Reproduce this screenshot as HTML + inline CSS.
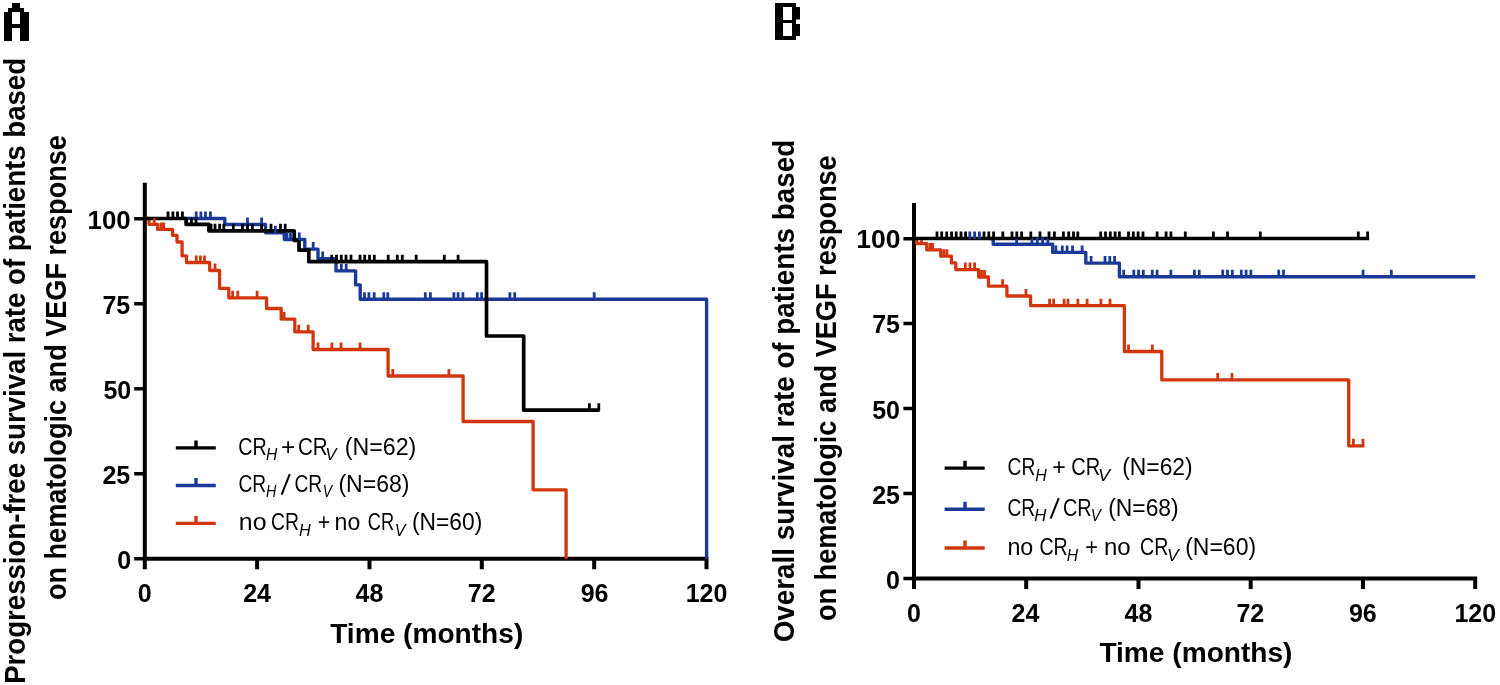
<!DOCTYPE html>
<html><head><meta charset="utf-8"><style>
html,body{margin:0;padding:0;background:#fff;width:1500px;height:685px;overflow:hidden}
svg{display:block;will-change:transform}
text{font-family:"Liberation Sans",sans-serif;fill:#000}
.b{font-weight:bold}
.i{font-style:italic}
</style></head><body>
<svg width="1500" height="685" viewBox="0 0 1500 685">
<rect x="12" y="3" width="8" height="5"/><rect x="8" y="8" width="16" height="4"/><rect x="4" y="12" width="8" height="29"/><rect x="20" y="12" width="9" height="29"/><rect x="12" y="24" width="8" height="4"/>
<path fill-rule="evenodd" d="M775 3H796V40H775Z M783 7V20H792V7Z M783 23V36H792V23Z"/><rect x="796" y="7" width="4" height="12.5"/><rect x="796" y="24" width="4" height="12"/>
<path d="M144.8 182.8V569.3M142.8 558.8H708.5M257.1 558.8V569.3M369.5 558.8V569.3M481.8 558.8V569.3M594.2 558.8V569.3M706.5 558.8V569.3" stroke="#000" stroke-width="4.0" fill="none"/>
<path d="M134.2 218.7H144.8M134.2 303.7H144.8M134.2 388.8H144.8M134.2 473.8H144.8M134.2 558.8H144.8" stroke="#000" stroke-width="3.5" fill="none"/>
<path d="M914.0 202.9V589.0M912.0 578.5H1477.2M1026.2 578.5V589.0M1138.5 578.5V589.0M1250.7 578.5V589.0M1363.0 578.5V589.0M1475.2 578.5V589.0" stroke="#000" stroke-width="4.0" fill="none"/>
<path d="M903.4 238.7H914.0M903.4 323.6H914.0M903.4 408.6H914.0M903.4 493.6H914.0M903.4 578.5H914.0" stroke="#000" stroke-width="3.5" fill="none"/>
<path d="M144.8 218.5 H149.0 V224.3 H157.7 V229.4 H172.6 V235.4 H177.0 V242.0 H182.1 V255.9 H186.5 V262.5 H209.7 V270.5 H219.6 V288.4 H228.8 V297.8 H266.6 V308.5 H281.2 V319.1 H294.8 V331.8 H313.1 V349.5 H388.1 V376.0 H463.1 V421.5 H533.1 V489.8 H566.1 V558.8" stroke="#d2360e" stroke-width="3.3" fill="none" stroke-linejoin="round"/>
<path d="M184.0 218.5 H224.8 V224.5 H265.5 V232.8 H284.3 V239.5 H304.8 V249.1 H318.0 V258.6 H336.0 V270.9 H355.6 V284.9 H360.2 V299.2 H706.6 V558.8" stroke="#1b3a97" stroke-width="3.4" fill="none" stroke-linejoin="round"/>
<path d="M144.8 218.5 H186.1 V224.4 H208.9 V230.8 H294.2 V240.3 H299.0 V250.2 H308.8 V261.7 H486.5 V336.0 H523.7 V410.2 H599.6" stroke="#000000" stroke-width="3.7" fill="none" stroke-linejoin="round"/>
<path d="M914.0 238.5 H916.7 V243.6 H926.8 V249.9 H940.8 V256.2 H951.4 V262.9 H955.8 V269.6 H978.6 V277.0 H988.5 V286.2 H1006.9 V296.0 H1030.6 V305.7 H1124.4 V351.5 H1161.8 V379.9 H1348.7 V445.8 H1364.3" stroke="#d2360e" stroke-width="3.3" fill="none" stroke-linejoin="round"/>
<path d="M990.0 238.5 H993.2 V244.2 H1052.7 V252.4 H1085.8 V263.1 H1119.4 V276.8 H1475.3" stroke="#1b3a97" stroke-width="3.4" fill="none" stroke-linejoin="round"/>
<path d="M914.0 238.5 H1369.2" stroke="#000000" stroke-width="3.7" fill="none" stroke-linejoin="round"/>
<path d="M154.2 224.8V218.3M161.0 229.9V222.4M163.8 229.9V222.4M196.3 263.0V255.5M200.4 263.0V255.5M204.5 263.0V255.5M215.0 271.0V263.5M232.6 298.3V290.8M237.8 298.3V290.8M257.1 298.3V290.8M284.1 319.6V312.1M298.7 332.3V324.8M308.2 332.3V324.8M318.0 350.0V342.5M331.9 350.0V342.5M341.1 350.0V342.5M360.1 350.0V342.5M392.8 376.5V369.0M448.9 376.5V369.0" stroke="#d2360e" stroke-width="2.8" fill="none"/>
<path d="M196.2 219.0V211.5M200.9 219.0V211.5M205.5 219.0V211.5M210.4 219.0V211.5M247.5 225.0V217.5M261.6 225.0V217.5M275.3 233.3V225.8M287.0 240.0V232.5M290.5 240.0V232.5M299.3 240.0V232.5M313.2 249.6V242.1M322.7 259.1V251.6M341.3 271.4V263.9M346.2 271.4V263.9M364.5 299.7V292.2M368.9 299.7V292.2M374.2 299.7V292.2M383.8 299.7V292.2M387.8 299.7V292.2M425.3 299.7V292.2M430.4 299.7V292.2M453.9 299.7V292.2M458.1 299.7V292.2M462.9 299.7V292.2M477.3 299.7V292.2M481.6 299.7V292.2M509.9 299.7V292.2M514.7 299.7V292.2M594.2 299.7V292.2" stroke="#1b3a97" stroke-width="2.8" fill="none"/>
<path d="M168.0 219.0V211.5M172.9 219.0V211.5M177.5 219.0V211.5M182.4 219.0V211.5M191.4 224.9V217.4M196.0 224.9V217.4M211.0 231.3V223.8M215.0 231.3V223.8M219.7 231.3V223.8M223.8 231.3V223.8M233.3 231.3V223.8M242.5 231.3V223.8M247.5 231.3V223.8M252.4 231.3V223.8M261.5 231.3V223.8M271.0 231.3V223.8M280.5 231.3V223.8M285.2 231.3V223.8M331.7 262.2V254.7M336.5 262.2V254.7M341.3 262.2V254.7M346.0 262.2V254.7M351.0 262.2V254.7M360.0 262.2V254.7M364.7 262.2V254.7M369.5 262.2V254.7M374.3 262.2V254.7M388.2 262.2V254.7M397.3 262.2V254.7M402.3 262.2V254.7M416.2 262.2V254.7M444.3 262.2V254.7M458.1 262.2V254.7M589.4 410.7V403.2M598.8 410.7V403.2" stroke="#000000" stroke-width="2.8" fill="none"/>
<path d="M921.5 244.1V240.1M929.9 250.4V242.9M932.6 250.4V242.9M943.8 256.7V249.2M946.9 256.7V249.2M965.3 270.1V262.6M970.0 270.1V262.6M974.6 270.1V262.6M981.5 277.5V270.0M984.5 277.5V270.0M1002.6 286.7V279.2M1026.0 296.5V289.0M1049.6 306.2V298.7M1053.6 306.2V298.7M1064.1 306.2V298.7M1068.0 306.2V298.7M1077.9 306.2V298.7M1087.1 306.2V298.7M1100.9 306.2V298.7M1110.0 306.2V298.7M1128.5 352.0V344.5M1152.3 352.0V344.5M1217.7 380.4V372.9M1232.0 380.4V372.9M1353.4 446.3V438.8M1363.0 446.3V438.8" stroke="#d2360e" stroke-width="2.8" fill="none"/>
<path d="M969.8 239.0V231.5M974.6 239.0V231.5M979.4 239.0V231.5M1016.6 244.7V237.2M1031.9 244.7V237.2M1037.3 244.7V237.2M1042.6 244.7V237.2M1047.9 244.7V237.2M1055.9 252.9V245.4M1062.3 252.9V245.4M1067.1 252.9V245.4M1072.5 252.9V245.4M1082.1 252.9V245.4M1091.1 263.6V256.1M1105.0 263.6V256.1M1109.8 263.6V256.1M1114.6 263.6V256.1M1123.7 277.3V269.8M1133.8 277.3V269.8M1138.6 277.3V269.8M1143.3 277.3V269.8M1152.3 277.3V269.8M1157.1 277.3V269.8M1170.9 277.3V269.8M1194.4 277.3V269.8M1199.2 277.3V269.8M1222.7 277.3V269.8M1227.5 277.3V269.8M1232.3 277.3V269.8M1241.3 277.3V269.8M1246.1 277.3V269.8M1250.9 277.3V269.8M1278.7 277.3V269.8M1283.5 277.3V269.8M1363.1 277.3V269.8M1391.3 277.3V269.8" stroke="#1b3a97" stroke-width="2.8" fill="none"/>
<path d="M937.0 239.0V231.5M941.7 239.0V231.5M946.7 239.0V231.5M951.6 239.0V231.5M956.2 239.0V231.5M961.0 239.0V231.5M965.6 239.0V231.5M984.0 239.0V231.5M988.8 239.0V231.5M993.6 239.0V231.5M1002.8 239.0V231.5M1012.0 239.0V231.5M1016.8 239.0V231.5M1021.6 239.0V231.5M1030.8 239.0V231.5M1040.0 239.0V231.5M1049.0 239.0V231.5M1054.4 239.0V231.5M1063.4 239.0V231.5M1068.7 239.0V231.5M1073.5 239.0V231.5M1077.8 239.0V231.5M1100.7 239.0V231.5M1105.5 239.0V231.5M1110.3 239.0V231.5M1115.1 239.0V231.5M1119.4 239.0V231.5M1128.5 239.0V231.5M1133.3 239.0V231.5M1138.1 239.0V231.5M1143.0 239.0V231.5M1157.1 239.0V231.5M1166.1 239.0V231.5M1170.9 239.0V231.5M1185.3 239.0V231.5M1213.4 239.0V231.5M1227.5 239.0V231.5M1260.3 239.0V231.5M1358.3 239.0V231.5M1367.6 239.0V231.5" stroke="#000000" stroke-width="2.8" fill="none"/>
<path d="M175.8 447.9H215.8 M196.0 447.9V440.5" stroke="#000000" stroke-width="3.4" fill="none"/><path d="M175.8 485.5H215.8 M196.0 485.5V478.1" stroke="#1b3a97" stroke-width="3.4" fill="none"/><path d="M175.8 523.4H215.8 M196.0 523.4V516.0" stroke="#d2360e" stroke-width="3.4" fill="none"/>
<path d="M944.6 468.1H984.7 M965.0 468.1V460.7" stroke="#000000" stroke-width="3.4" fill="none"/><path d="M944.6 509.2H984.7 M965.0 509.2V501.8" stroke="#1b3a97" stroke-width="3.4" fill="none"/><path d="M944.6 548.0H984.7 M965.0 548.0V540.6" stroke="#d2360e" stroke-width="3.4" fill="none"/>
<path d="M289.8 474.2L281.6 494.6M1058.8 498.2L1050.6 518.6" stroke="#000" stroke-width="2" fill="none"/>
<text id="ylA0" class="b" x="87.50" y="228.55" font-size="25.00" textLength="43.20" lengthAdjust="spacingAndGlyphs">100</text>
<text id="ylA1" class="b" x="130.20" y="313.65" font-size="25.00" text-anchor="end">75</text>
<text id="ylA2" class="b" x="131.20" y="398.75" font-size="25.00" text-anchor="end">50</text>
<text id="ylA3" class="b" x="130.20" y="483.85" font-size="25.00" text-anchor="end">25</text>
<text id="ylA4" class="b" x="131.20" y="568.95" font-size="25.00" text-anchor="end">0</text>
<text id="xlA0" class="b" x="144.70" y="601.90" font-size="25.00" text-anchor="middle">0</text>
<text id="xlA1" class="b" x="257.06" y="601.90" font-size="25.00" text-anchor="middle">24</text>
<text id="xlA2" class="b" x="369.42" y="601.90" font-size="25.00" text-anchor="middle">48</text>
<text id="xlA3" class="b" x="481.78" y="601.90" font-size="25.00" text-anchor="middle">72</text>
<text id="xlA4" class="b" x="594.64" y="601.90" font-size="25.00" text-anchor="middle">96</text>
<text id="xlA5" class="b" x="706.50" y="601.90" font-size="25.00" text-anchor="middle">120</text>
<text id="tmA" class="b" x="330.20" y="643.30" font-size="27.50" textLength="193.10" lengthAdjust="spacingAndGlyphs">Time (months)</text>
<text id="ylB0" class="b" x="856.30" y="248.35" font-size="25.00" textLength="44.20" lengthAdjust="spacingAndGlyphs">100</text>
<text id="ylB1" class="b" x="900.00" y="333.45" font-size="25.00" text-anchor="end">75</text>
<text id="ylB2" class="b" x="900.00" y="418.55" font-size="25.00" text-anchor="end">50</text>
<text id="ylB3" class="b" x="900.00" y="503.65" font-size="25.00" text-anchor="end">25</text>
<text id="ylB4" class="b" x="900.00" y="588.75" font-size="25.00" text-anchor="end">0</text>
<text id="xlB0" class="b" x="914.00" y="621.70" font-size="25.00" text-anchor="middle">0</text>
<text id="xlB1" class="b" x="1025.46" y="621.70" font-size="25.00" text-anchor="middle">24</text>
<text id="xlB2" class="b" x="1138.42" y="621.70" font-size="25.00" text-anchor="middle">48</text>
<text id="xlB3" class="b" x="1250.38" y="621.70" font-size="25.00" text-anchor="middle">72</text>
<text id="xlB4" class="b" x="1362.84" y="621.70" font-size="25.00" text-anchor="middle">96</text>
<text id="xlB5" class="b" x="1475.30" y="621.70" font-size="25.00" text-anchor="middle">120</text>
<text id="tmB" class="b" x="1099.40" y="662.10" font-size="27.50" textLength="193.10" lengthAdjust="spacingAndGlyphs">Time (months)</text>
<text id="ytA1" class="b" x="-370.90" y="25.30" font-size="29.00" textLength="625.90" lengthAdjust="spacingAndGlyphs" text-anchor="middle" transform="rotate(-90)">Progression-free survival rate of patients based</text>
<text id="ytA2" class="b" x="-367.60" y="65.80" font-size="29.00" textLength="464.90" lengthAdjust="spacingAndGlyphs" text-anchor="middle" transform="rotate(-90)">on hematologic and VEGF response</text>
<text id="ytB1" class="b" x="-391.10" y="794.20" font-size="29.00" textLength="502.50" lengthAdjust="spacingAndGlyphs" text-anchor="middle" transform="rotate(-90)">Overall survival rate of patients based</text>
<text id="ytB2" class="b" x="-388.20" y="835.50" font-size="29.00" textLength="465.80" lengthAdjust="spacingAndGlyphs" text-anchor="middle" transform="rotate(-90)">on hematologic and VEGF response</text>
<text id="lA10" class="r" x="238.20" y="454.50" font-size="23.00" textLength="28.50" lengthAdjust="spacingAndGlyphs">CR</text>
<text id="lA11" class="i" x="266.00" y="460.20" font-size="16.40" textLength="11.30" lengthAdjust="spacingAndGlyphs">H</text>
<text id="lA12" class="r" x="281.00" y="454.50" font-size="23.00" textLength="14.30" lengthAdjust="spacingAndGlyphs">+</text>
<text id="lA13" class="r" x="298.00" y="454.50" font-size="23.00" textLength="29.70" lengthAdjust="spacingAndGlyphs">CR</text>
<text id="lA14" class="i" x="325.20" y="460.20" font-size="16.40" textLength="11.30" lengthAdjust="spacingAndGlyphs">V</text>
<text id="lA15" class="r" x="344.80" y="454.50" font-size="23.00" textLength="71.50" lengthAdjust="spacingAndGlyphs">(N=62)</text>
<text id="lA20" class="r" x="238.40" y="491.75" font-size="23.00" textLength="27.70" lengthAdjust="spacingAndGlyphs">CR</text>
<text id="lA21" class="i" x="266.00" y="497.20" font-size="16.40" textLength="10.30" lengthAdjust="spacingAndGlyphs">H</text>
<text id="lA22" class="r" x="294.40" y="491.75" font-size="23.00" textLength="27.70" lengthAdjust="spacingAndGlyphs">CR</text>
<text id="lA23" class="i" x="322.80" y="497.20" font-size="16.40" textLength="9.30" lengthAdjust="spacingAndGlyphs">V</text>
<text id="lA24" class="r" x="338.40" y="491.75" font-size="23.00" textLength="71.10" lengthAdjust="spacingAndGlyphs">(N=68)</text>
<text id="lA30" class="r" x="238.80" y="530.00" font-size="23.00" textLength="27.70" lengthAdjust="spacingAndGlyphs">no</text>
<text id="lA31" class="r" x="271.00" y="530.00" font-size="23.00" textLength="27.90" lengthAdjust="spacingAndGlyphs">CR</text>
<text id="lA32" class="i" x="299.00" y="536.20" font-size="16.40" textLength="11.70" lengthAdjust="spacingAndGlyphs">H</text>
<text id="lA33" class="r" x="317.80" y="530.00" font-size="23.00" textLength="12.30" lengthAdjust="spacingAndGlyphs">+</text>
<text id="lA34" class="r" x="334.60" y="530.00" font-size="23.00" textLength="25.70" lengthAdjust="spacingAndGlyphs">no</text>
<text id="lA35" class="r" x="367.80" y="530.00" font-size="23.00" textLength="26.30" lengthAdjust="spacingAndGlyphs">CR</text>
<text id="lA36" class="i" x="394.80" y="536.20" font-size="16.40" textLength="10.70" lengthAdjust="spacingAndGlyphs">V</text>
<text id="lA37" class="r" x="412.00" y="530.00" font-size="23.00" textLength="70.30" lengthAdjust="spacingAndGlyphs">(N=60)</text>
<text id="lB10" class="r" x="1007.60" y="474.60" font-size="23.00" textLength="27.70" lengthAdjust="spacingAndGlyphs">CR</text>
<text id="lB11" class="i" x="1035.20" y="480.60" font-size="16.40" textLength="11.50" lengthAdjust="spacingAndGlyphs">H</text>
<text id="lB12" class="r" x="1052.20" y="474.60" font-size="23.00" textLength="13.50" lengthAdjust="spacingAndGlyphs">+</text>
<text id="lB13" class="r" x="1071.20" y="474.60" font-size="23.00" textLength="28.90" lengthAdjust="spacingAndGlyphs">CR</text>
<text id="lB14" class="i" x="1098.00" y="480.60" font-size="16.40" textLength="12.10" lengthAdjust="spacingAndGlyphs">V</text>
<text id="lB15" class="r" x="1122.20" y="474.60" font-size="23.00" textLength="70.50" lengthAdjust="spacingAndGlyphs">(N=62)</text>
<text id="lB20" class="r" x="1007.40" y="515.75" font-size="23.00" textLength="27.70" lengthAdjust="spacingAndGlyphs">CR</text>
<text id="lB21" class="i" x="1034.20" y="521.20" font-size="16.40" textLength="12.10" lengthAdjust="spacingAndGlyphs">H</text>
<text id="lB22" class="r" x="1063.00" y="515.75" font-size="23.00" textLength="28.70" lengthAdjust="spacingAndGlyphs">CR</text>
<text id="lB23" class="i" x="1090.80" y="521.20" font-size="16.40" textLength="10.10" lengthAdjust="spacingAndGlyphs">V</text>
<text id="lB24" class="r" x="1108.20" y="515.75" font-size="23.00" textLength="70.50" lengthAdjust="spacingAndGlyphs">(N=68)</text>
<text id="lB30" class="r" x="1007.40" y="555.00" font-size="23.00" textLength="25.90" lengthAdjust="spacingAndGlyphs">no</text>
<text id="lB31" class="r" x="1039.40" y="555.00" font-size="23.00" textLength="28.30" lengthAdjust="spacingAndGlyphs">CR</text>
<text id="lB32" class="i" x="1066.80" y="561.20" font-size="16.40" textLength="11.30" lengthAdjust="spacingAndGlyphs">H</text>
<text id="lB33" class="r" x="1085.20" y="555.00" font-size="23.00" textLength="12.70" lengthAdjust="spacingAndGlyphs">+</text>
<text id="lB34" class="r" x="1104.00" y="555.00" font-size="23.00" textLength="26.70" lengthAdjust="spacingAndGlyphs">no</text>
<text id="lB35" class="r" x="1140.00" y="555.00" font-size="23.00" textLength="28.30" lengthAdjust="spacingAndGlyphs">CR</text>
<text id="lB36" class="i" x="1167.00" y="561.20" font-size="16.40" textLength="11.70" lengthAdjust="spacingAndGlyphs">V</text>
<text id="lB37" class="r" x="1185.20" y="555.00" font-size="23.00" textLength="70.90" lengthAdjust="spacingAndGlyphs">(N=60)</text>
</svg>
</body></html>
